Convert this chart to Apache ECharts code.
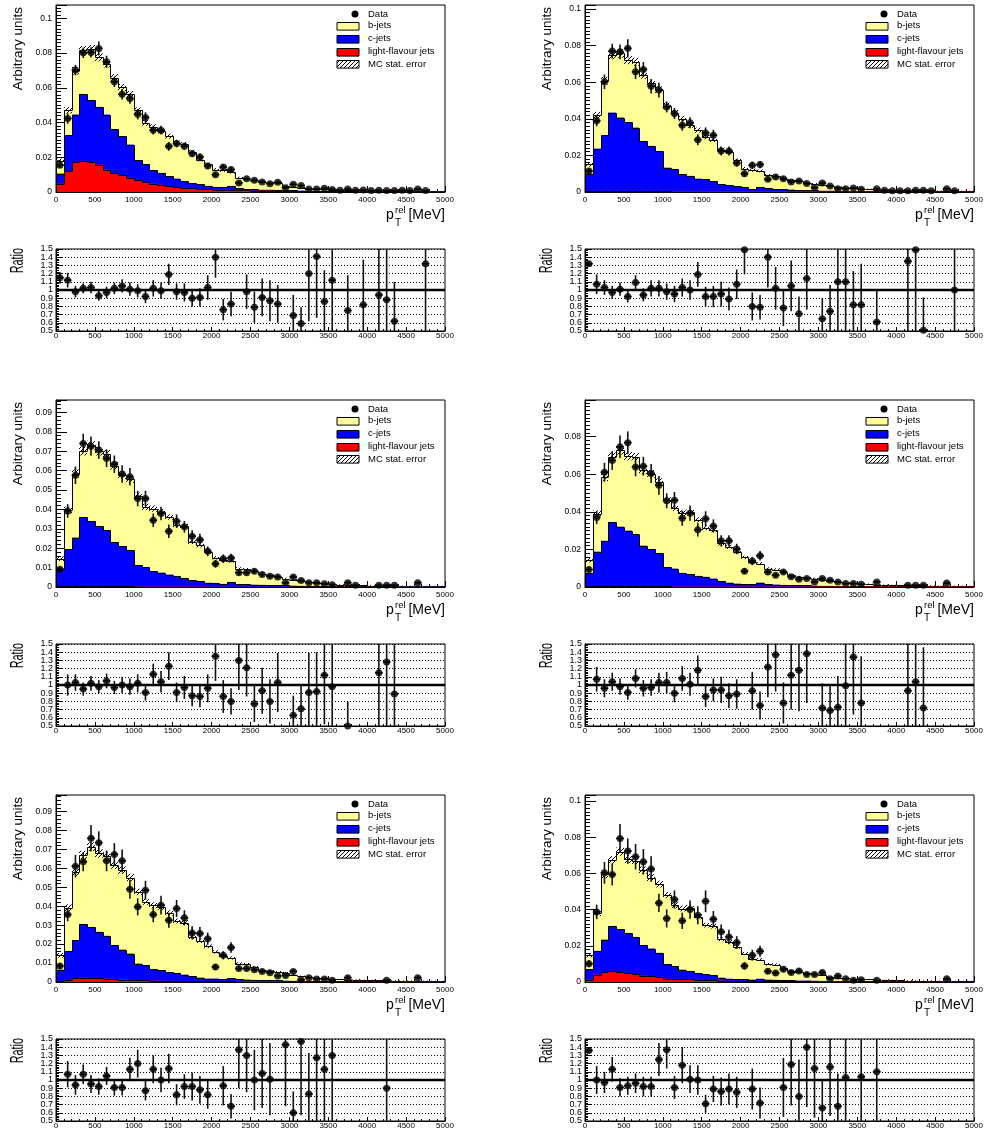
<!DOCTYPE html>
<html>
<head>
<meta charset="utf-8">
<script src="https://cdn.jsdelivr.net/npm/echarts@6/dist/echarts.min.js"></script>
<style>
  html, body { margin: 0; padding: 0; background: #fff; }
  #chart { width: 989px; height: 1135px; }
</style>
</head>
<body>
<div id="chart"></div>
<script>
// ---- binning: 50 bins of 100 MeV in p_T^rel ----
const binLow = [0,100,200,300,400,500,600,700,800,900,
  1000,1100,1200,1300,1400,1500,1600,1700,1800,1900,
  2000,2100,2200,2300,2400,2500,2600,2700,2800,2900,
  3000,3100,3200,3300,3400,3500,3600,3700,3800,3900,
  4000,4100,4200,4300,4400,4500,4600,4700,4800,4900];

// ---- panel 1 ----
const mcTotal1 = [0.0180,0.0470,0.0698,0.0817,0.0823,0.0775,0.0740,0.0658,0.0602,0.0563,
  0.0470,0.0398,0.0375,0.0352,0.0321,0.0283,0.0275,0.0231,0.0187,0.0160,
  0.0129,0.0125,0.0115,0.0081,0.0077,0.0067,0.0058,0.0052,0.0052,0.0037,
  0.0029,0.0025,0.0019,0.0017,0.0015,0.0013,0.0012,0.0010,0.0009,0.0008,
  0.0008,0.0007,0.0007,0.0006,0.0006,0.0005,0.0005,0.0005,0.0004,0.0004];
const mcCharmLight1 = [0.0106,0.0327,0.0446,0.0563,0.0529,0.0490,0.0446,0.0360,0.0321,0.0273,
  0.0183,0.0160,0.0125,0.0110,0.0090,0.0077,0.0062,0.0050,0.0044,0.0035,
  0.0029,0.0027,0.0035,0.0023,0.0017,0.0015,0.0013,0.0013,0.0012,0.0010,
  0.0010,0.0008,0.0007,0.0006,0.0006,0.0005,0.0005,0.0004,0.0004,0.0004,
  0.0003,0.0003,0.0003,0.0003,0.0003,0.0002,0.0002,0.0002,0.0002,0.0002];
const mcLight1 = [0.0048,0.0119,0.0173,0.0179,0.0173,0.0158,0.0129,0.0110,0.0096,0.0083,
  0.0067,0.0056,0.0048,0.0042,0.0035,0.0029,0.0025,0.0021,0.0017,0.0015,
  0.0013,0.0013,0.0012,0.0010,0.0010,0.0008,0.0008,0.0008,0.0006,0.0006,
  0.0005,0.0004,0.0004,0.0004,0.0003,0.0003,0.0003,0.0003,0.0002,0.0002,
  0.0002,0.0002,0.0002,0.0002,0.0001,0.0001,0.0001,0.0001,0.0001,0.0001];
const mcErr1 = [0.0012,0.0018,0.0022,0.0024,0.0024,0.0023,0.0022,0.0021,0.0020,0.0019,
  0.0017,0.0016,0.0015,0.0015,0.0014,0.0013,0.0013,0.0012,0.0011,0.0010,
  0.0009,0.0009,0.0009,0.0007,0.0007,0.0006,0.0006,0.0005,0.0005,0.0005,
  0.0004,0.0004,0.0003,0.0003,0.0003,0.0003,0.0003,0.0002,0.0002,0.0002,
  0.0002,0.0002,0.0002,0.0002,0.0002,0.0002,0.0002,0.0002,0.0002,0.0002];
const data1 = [0.0154,0.0423,0.0702,0.0802,0.0804,0.0827,0.0750,0.0635,0.0563,0.0538,
  0.0448,0.0429,0.0356,0.0356,0.0263,0.0279,0.0263,0.0221,0.0202,0.0150,
  0.0100,0.0144,0.0129,0.0052,0.0077,0.0067,0.0058,0.0048,0.0056,0.0025,
  0.0044,0.0037,0.0017,0.0017,0.0021,0.0015,0.0010,0.0017,0.0010,0.0012,
  0.0008,0.0010,0.0008,0.0008,0.0010,0.0008,0.0017,0.0008,null,null];
const dataErr1 = [0.0015,0.0030,0.0030,0.0030,0.0030,0.0040,0.0035,0.0030,0.0030,0.0030,
  0.0030,0.0030,0.0025,0.0025,0.0025,0.0022,0.0020,0.0020,0.0020,0.0017,
  0.0015,0.0015,0.0015,0.0010,0.0010,0.0010,0.0009,0.0009,0.0009,0.0007,
  0.0008,0.0007,0.0005,0.0005,0.0006,0.0005,0.0004,0.0005,0.0004,0.0004,
  0.0003,0.0004,0.0003,0.0003,0.0004,0.0003,0.0005,0.0003,null,null];
const ratio1 = [1.15,1.12,0.98,1.02,1.03,0.93,0.97,1.02,1.05,1.01,
  0.99,0.92,1.02,0.99,1.19,0.98,0.97,0.90,0.91,1.03,
  1.40,0.76,0.83,null,0.98,0.79,0.91,0.87,0.83,null,
  0.69,0.59,1.20,1.41,0.86,1.12,null,0.75,null,0.82,
  null,0.94,0.88,0.62,null,null,null,1.32,null,null];
const ratioErr1 = [0.07,0.09,0.07,0.06,0.07,0.06,0.07,0.07,0.08,0.08,
  0.08,0.08,0.10,0.10,0.13,0.10,0.11,0.10,0.11,0.15,
  0.25,0.13,0.15,null,0.21,0.19,0.23,0.25,0.23,null,
  0.25,0.20,0.58,0.75,0.38,0.65,null,0.43,null,0.55,
  null,0.80,0.90,0.48,null,null,null,1.00,null,null];

// ---- panel 2 ----
const mcTotal2 = [0.0151,0.0420,0.0608,0.0748,0.0757,0.0721,0.0712,0.0639,0.0593,0.0560,
  0.0471,0.0434,0.0401,0.0365,0.0338,0.0301,0.0286,0.0232,0.0219,0.0173,
  0.0128,0.0119,0.0115,0.0091,0.0088,0.0073,0.0064,0.0060,0.0051,0.0044,
  0.0038,0.0033,0.0027,0.0024,0.0020,0.0018,0.0015,0.0013,0.0011,0.0010,
  0.0009,0.0008,0.0008,0.0007,0.0007,0.0006,0.0006,0.0005,0.0005,0.0005];
const mcCharmLight2 = [0.0100,0.0237,0.0310,0.0434,0.0407,0.0380,0.0352,0.0277,0.0252,0.0224,
  0.0133,0.0126,0.0097,0.0088,0.0073,0.0069,0.0058,0.0042,0.0036,0.0031,
  0.0027,0.0016,0.0027,0.0020,0.0016,0.0015,0.0013,0.0011,0.0009,0.0009,
  0.0007,0.0007,0.0006,0.0005,0.0005,0.0004,0.0004,0.0004,0.0003,0.0003,
  0.0003,0.0003,0.0003,0.0003,0.0003,0.0003,0.0003,0.0003,0.0003,0.0003];
const mcLight2 = [0.0003,0.0004,0.0004,0.0004,0.0004,0.0004,0.0003,0.0003,0.0003,0.0003,
  0.0003,0.0002,0.0002,0.0002,0.0002,0.0002,0.0002,0.0002,0.0002,0.0002,
  0.0002,0.0002,0.0002,0.0002,0.0002,0.0002,0.0002,0.0002,0.0002,0.0002,
  0.0002,0.0002,0.0002,0.0002,0.0002,0.0002,0.0002,0.0002,0.0002,0.0002,
  0.0002,0.0002,0.0002,0.0002,0.0002,0.0002,0.0002,0.0002,0.0002,0.0002];
const mcErr2 = [0.0012,0.0018,0.0021,0.0023,0.0023,0.0022,0.0022,0.0020,0.0019,0.0018,
  0.0017,0.0016,0.0015,0.0014,0.0014,0.0013,0.0012,0.0011,0.0011,0.0010,
  0.0009,0.0008,0.0008,0.0007,0.0007,0.0006,0.0006,0.0005,0.0005,0.0005,
  0.0004,0.0004,0.0003,0.0003,0.0003,0.0003,0.0003,0.0002,0.0002,0.0002,
  0.0002,0.0002,0.0002,0.0002,0.0002,0.0002,0.0002,0.0002,0.0002,0.0002];
const data2 = [0.0115,0.0389,0.0602,0.0770,0.0766,0.0785,0.0657,0.0670,0.0578,0.0557,
  0.0465,0.0429,0.0365,0.0378,0.0286,0.0323,0.0310,0.0224,0.0224,0.0159,
  0.0100,0.0146,0.0150,0.0069,0.0082,0.0073,0.0055,0.0060,0.0046,0.0024,
  0.0049,0.0033,0.0018,0.0018,0.0022,0.0015,null,0.0018,0.0009,0.0007,
  0.0007,0.0007,0.0009,0.0009,0.0007,null,0.0018,0.0007,null,null];
const dataErr2 = [0.0015,0.0030,0.0040,0.0040,0.0040,0.0050,0.0040,0.0040,0.0040,0.0040,
  0.0030,0.0030,0.0030,0.0030,0.0030,0.0030,0.0030,0.0025,0.0025,0.0020,
  0.0018,0.0020,0.0020,0.0012,0.0012,0.0011,0.0010,0.0010,0.0009,0.0007,
  0.0009,0.0008,0.0006,0.0006,0.0006,0.0005,null,0.0006,0.0004,0.0003,
  0.0003,0.0003,0.0004,0.0004,0.0003,null,0.0006,0.0003,null,null];
const ratio2 = [1.32,1.07,1.03,0.97,1.01,0.92,1.09,0.94,1.02,1.02,
  0.98,0.95,1.03,1.00,1.19,0.92,0.92,0.95,0.89,1.07,
  1.49,0.80,0.79,1.40,1.02,0.78,1.05,0.71,1.14,null,
  0.65,0.74,1.10,1.10,0.82,0.82,null,0.61,null,null,
  null,1.35,1.49,0.51,null,null,null,1.00,null,null];
const ratioErr2 = [0.03,0.12,0.09,0.08,0.08,0.07,0.09,0.08,0.10,0.10,
  0.10,0.10,0.11,0.12,0.15,0.12,0.13,0.15,0.14,0.18,
  0.30,0.17,0.15,0.37,0.26,0.22,0.31,0.21,0.38,null,
  0.25,0.32,0.60,0.60,0.41,0.50,null,0.38,null,null,
  null,0.90,1.00,0.40,null,null,null,1.00,null,null];

// ---- panel 3 ----
const mcTotal3 = [0.0146,0.0396,0.0585,0.0700,0.0731,0.0700,0.0688,0.0625,0.0576,0.0556,
  0.0470,0.0413,0.0404,0.0387,0.0361,0.0318,0.0313,0.0232,0.0215,0.0181,
  0.0151,0.0138,0.0134,0.0095,0.0091,0.0083,0.0069,0.0060,0.0050,0.0043,
  0.0038,0.0031,0.0026,0.0022,0.0017,0.0015,0.0012,0.0010,0.0009,0.0008,
  0.0007,0.0007,0.0006,0.0006,0.0005,0.0005,0.0005,0.0004,0.0004,0.0004];
const mcCharmLight3 = [0.0095,0.0194,0.0255,0.0361,0.0339,0.0313,0.0293,0.0232,0.0210,0.0189,
  0.0112,0.0103,0.0081,0.0074,0.0064,0.0057,0.0046,0.0036,0.0031,0.0022,
  0.0021,0.0016,0.0026,0.0014,0.0014,0.0012,0.0011,0.0010,0.0009,0.0009,
  0.0007,0.0006,0.0005,0.0005,0.0004,0.0004,0.0004,0.0003,0.0003,0.0003,
  0.0003,0.0003,0.0002,0.0002,0.0002,0.0002,0.0002,0.0002,0.0002,0.0002];
const mcLight3 = [0.0003,0.0003,0.0004,0.0004,0.0004,0.0003,0.0003,0.0003,0.0003,0.0003,
  0.0002,0.0002,0.0002,0.0002,0.0002,0.0002,0.0002,0.0002,0.0002,0.0002,
  0.0001,0.0001,0.0001,0.0001,0.0001,0.0001,0.0001,0.0001,0.0001,0.0001,
  0.0001,0.0001,0.0001,0.0001,0.0001,0.0001,0.0001,0.0001,0.0001,0.0001,
  0.0001,0.0001,0.0001,0.0001,0.0001,0.0001,0.0001,0.0001,0.0001,0.0001];
const mcErr3 = [0.0012,0.0018,0.0021,0.0022,0.0023,0.0022,0.0021,0.0020,0.0019,0.0019,
  0.0017,0.0016,0.0016,0.0015,0.0014,0.0013,0.0013,0.0011,0.0011,0.0010,
  0.0009,0.0009,0.0008,0.0007,0.0007,0.0006,0.0006,0.0005,0.0005,0.0005,
  0.0004,0.0004,0.0003,0.0003,0.0003,0.0003,0.0002,0.0002,0.0002,0.0002,
  0.0002,0.0002,0.0002,0.0002,0.0002,0.0002,0.0002,0.0002,0.0002,0.0002];
const data3 = [0.0091,0.0392,0.0576,0.0740,0.0726,0.0706,0.0663,0.0633,0.0582,0.0568,
  0.0456,0.0456,0.0344,0.0379,0.0287,0.0339,0.0310,0.0262,0.0244,0.0184,
  0.0120,0.0146,0.0150,0.0074,0.0074,0.0081,0.0064,0.0055,0.0052,0.0022,
  0.0052,0.0034,0.0022,0.0022,0.0017,0.0012,null,0.0022,0.0009,null,
  null,0.0009,0.0009,0.0009,null,null,0.0022,null,null,null];
const dataErr3 = [0.0015,0.0035,0.0045,0.0050,0.0050,0.0045,0.0045,0.0045,0.0045,0.0045,
  0.0040,0.0040,0.0035,0.0035,0.0035,0.0035,0.0030,0.0030,0.0030,0.0025,
  0.0020,0.0022,0.0022,0.0014,0.0014,0.0014,0.0012,0.0011,0.0011,0.0007,
  0.0011,0.0009,0.0007,0.0007,0.0006,0.0005,null,0.0007,0.0004,null,
  null,0.0004,0.0004,0.0004,null,null,0.0007,null,null,null];
const ratio3 = [null,1.00,1.03,0.95,1.02,0.98,1.05,0.97,1.00,0.98,
  1.02,0.91,1.13,1.04,1.23,0.91,0.97,0.87,0.86,0.96,
  1.35,0.86,0.80,1.30,1.21,0.77,0.93,0.80,1.03,null,
  0.63,0.71,0.91,0.92,1.12,0.98,null,0.50,null,null,
  null,1.15,1.28,0.89,null,null,null,null,null,null];
const ratioErr3 = [null,0.13,0.10,0.08,0.09,0.08,0.09,0.08,0.10,0.10,
  0.11,0.10,0.13,0.13,0.17,0.12,0.14,0.13,0.13,0.17,
  0.30,0.20,0.16,0.36,0.35,0.22,0.28,0.27,0.36,null,
  0.24,0.30,0.48,0.48,0.60,0.60,null,0.30,null,null,
  null,0.70,0.80,0.65,null,null,null,null,null,null];

// ---- panel 4 ----
const mcTotal4 = [0.0143,0.0389,0.0584,0.0693,0.0727,0.0696,0.0691,0.0620,0.0602,0.0559,
  0.0464,0.0420,0.0393,0.0398,0.0357,0.0316,0.0304,0.0232,0.0214,0.0188,
  0.0157,0.0134,0.0125,0.0098,0.0093,0.0080,0.0063,0.0054,0.0048,0.0045,
  0.0038,0.0032,0.0027,0.0023,0.0020,0.0018,0.0015,0.0013,0.0011,0.0010,
  0.0009,0.0008,0.0008,0.0007,0.0007,0.0006,0.0006,0.0005,0.0005,0.0005];
const mcCharmLight4 = [0.0075,0.0188,0.0246,0.0345,0.0321,0.0300,0.0280,0.0220,0.0200,0.0179,
  0.0104,0.0098,0.0075,0.0068,0.0059,0.0054,0.0045,0.0030,0.0023,0.0018,
  0.0016,0.0014,0.0023,0.0014,0.0013,0.0011,0.0009,0.0008,0.0008,0.0007,
  0.0006,0.0006,0.0005,0.0005,0.0004,0.0004,0.0004,0.0003,0.0003,0.0003,
  0.0003,0.0003,0.0003,0.0003,0.0003,0.0003,0.0003,0.0003,0.0003,0.0003];
const mcLight4 = [0.0003,0.0004,0.0004,0.0004,0.0004,0.0004,0.0003,0.0003,0.0003,0.0003,
  0.0003,0.0002,0.0002,0.0002,0.0002,0.0002,0.0002,0.0002,0.0002,0.0002,
  0.0002,0.0002,0.0002,0.0002,0.0002,0.0002,0.0002,0.0002,0.0002,0.0002,
  0.0002,0.0002,0.0002,0.0002,0.0002,0.0002,0.0002,0.0002,0.0002,0.0002,
  0.0002,0.0002,0.0002,0.0002,0.0002,0.0002,0.0002,0.0002,0.0002,0.0002];
const mcErr4 = [0.0012,0.0018,0.0021,0.0023,0.0023,0.0022,0.0022,0.0020,0.0020,0.0019,
  0.0017,0.0016,0.0015,0.0015,0.0014,0.0013,0.0013,0.0011,0.0011,0.0010,
  0.0009,0.0009,0.0008,0.0007,0.0007,0.0006,0.0006,0.0005,0.0005,0.0005,
  0.0004,0.0004,0.0003,0.0003,0.0003,0.0003,0.0003,0.0002,0.0002,0.0002,
  0.0002,0.0002,0.0002,0.0002,0.0002,0.0002,0.0002,0.0002,0.0002,0.0002];
const data4 = [0.0093,0.0370,0.0611,0.0673,0.0746,0.0768,0.0639,0.0643,0.0604,0.0541,
  0.0459,0.0461,0.0366,0.0393,0.0304,0.0363,0.0325,0.0246,0.0246,0.0202,
  0.0084,0.0138,0.0166,0.0080,0.0063,0.0080,0.0054,0.0041,0.0045,0.0027,
  0.0045,0.0036,0.0027,0.0018,0.0018,0.0014,null,0.0027,null,null,
  null,0.0009,0.0009,0.0009,null,null,0.0021,null,null,null];
const dataErr4 = [0.0015,0.0035,0.0050,0.0050,0.0060,0.0060,0.0050,0.0050,0.0050,0.0050,
  0.0040,0.0045,0.0040,0.0040,0.0035,0.0040,0.0035,0.0030,0.0030,0.0028,
  0.0015,0.0022,0.0025,0.0013,0.0012,0.0013,0.0010,0.0009,0.0009,0.0007,
  0.0009,0.0008,0.0007,0.0006,0.0006,0.0005,null,0.0007,null,null,
  null,0.0004,0.0004,0.0004,null,null,0.0006,null,null,null];
const ratio4 = [null,1.07,0.96,1.04,0.98,0.91,1.08,0.96,0.97,1.03,
  1.03,0.90,1.08,1.01,1.18,0.86,0.94,0.94,0.87,0.89,
  null,0.93,0.75,1.22,1.37,0.78,1.12,1.18,1.38,null,
  0.72,0.69,0.73,0.99,1.34,0.78,null,null,null,null,
  null,0.93,1.04,0.72,null,null,null,null,null,null];
const ratioErr4 = [null,0.15,0.11,0.11,0.10,0.09,0.11,0.10,0.10,0.12,
  0.13,0.11,0.15,0.14,0.18,0.13,0.14,0.16,0.15,0.18,
  null,0.23,0.17,0.37,0.45,0.25,0.42,0.50,0.60,null,
  0.30,0.32,0.38,0.60,0.70,0.57,null,null,null,null,
  null,0.80,0.90,0.74,null,null,null,null,null,null];

// ---- panel 5 ----
const mcTotal5 = [0.0141,0.0392,0.0582,0.0671,0.0715,0.0679,0.0665,0.0618,0.0591,0.0552,
  0.0476,0.0424,0.0406,0.0397,0.0365,0.0323,0.0314,0.0238,0.0217,0.0189,
  0.0159,0.0138,0.0127,0.0097,0.0094,0.0079,0.0062,0.0058,0.0053,0.0048,
  0.0039,0.0030,0.0026,0.0023,0.0020,0.0017,0.0015,0.0013,0.0011,0.0010,
  0.0009,0.0008,0.0007,0.0007,0.0006,0.0006,0.0005,0.0005,0.0005,0.0004];
const mcCharmLight5 = [0.0065,0.0164,0.0221,0.0304,0.0288,0.0265,0.0244,0.0194,0.0171,0.0150,
  0.0097,0.0088,0.0067,0.0062,0.0053,0.0048,0.0039,0.0030,0.0023,0.0018,
  0.0018,0.0016,0.0021,0.0014,0.0013,0.0011,0.0010,0.0009,0.0008,0.0007,
  0.0006,0.0006,0.0005,0.0005,0.0004,0.0004,0.0004,0.0003,0.0003,0.0003,
  0.0003,0.0003,0.0003,0.0003,0.0002,0.0002,0.0002,0.0002,0.0002,0.0002];
const mcLight5 = [0.0005,0.0012,0.0021,0.0023,0.0022,0.0019,0.0018,0.0014,0.0013,0.0012,
  0.0009,0.0009,0.0007,0.0007,0.0006,0.0005,0.0005,0.0004,0.0004,0.0003,
  0.0003,0.0003,0.0003,0.0002,0.0002,0.0002,0.0002,0.0002,0.0002,0.0001,
  0.0001,0.0001,0.0001,0.0001,0.0001,0.0001,0.0001,0.0001,0.0001,0.0001,
  0.0001,0.0001,0.0001,0.0001,0.0001,0.0001,0.0001,0.0001,0.0001,0.0001];
const mcErr5 = [0.0012,0.0018,0.0021,0.0022,0.0023,0.0022,0.0021,0.0020,0.0020,0.0019,
  0.0017,0.0016,0.0016,0.0015,0.0014,0.0013,0.0013,0.0011,0.0011,0.0010,
  0.0009,0.0009,0.0008,0.0007,0.0007,0.0006,0.0006,0.0005,0.0005,0.0005,
  0.0004,0.0004,0.0003,0.0003,0.0003,0.0003,0.0002,0.0002,0.0002,0.0002,
  0.0002,0.0002,0.0002,0.0002,0.0002,0.0002,0.0002,0.0002,0.0002,0.0002];
const data5 = [0.0085,0.0356,0.0612,0.0635,0.0759,0.0736,0.0640,0.0674,0.0640,0.0490,
  0.0397,0.0485,0.0356,0.0406,0.0326,0.0388,0.0339,0.0259,0.0256,0.0229,
  0.0079,0.0141,0.0182,0.0071,0.0071,0.0065,0.0056,0.0049,0.0032,0.0035,
  0.0056,0.0012,0.0023,0.0016,0.0016,0.0009,null,0.0023,null,null,
  null,null,0.0009,null,null,null,0.0023,null,null,null];
const dataErr5 = [0.0015,0.0035,0.0060,0.0050,0.0070,0.0060,0.0055,0.0060,0.0060,0.0050,
  0.0045,0.0050,0.0040,0.0050,0.0040,0.0045,0.0040,0.0035,0.0035,0.0032,
  0.0015,0.0022,0.0028,0.0013,0.0013,0.0012,0.0011,0.0010,0.0008,0.0008,
  0.0011,0.0005,0.0007,0.0006,0.0006,0.0004,null,0.0007,null,null,
  null,null,0.0004,null,null,null,0.0007,null,null,null];
const ratio5 = [null,1.07,0.94,1.07,0.95,0.92,1.05,0.91,0.91,1.13,
  1.20,0.87,1.13,1.00,1.14,0.82,0.92,0.92,0.88,0.82,
  null,0.93,0.68,1.37,1.30,1.00,1.08,1.01,null,1.43,
  0.60,1.47,0.83,1.27,1.13,1.30,null,null,null,null,
  null,null,0.90,null,null,null,null,null,null,null];
const ratioErr5 = [null,0.16,0.12,0.12,0.11,0.10,0.11,0.10,0.10,0.14,
  0.17,0.12,0.17,0.15,0.18,0.13,0.15,0.17,0.17,0.17,
  null,0.24,0.15,0.47,0.45,0.37,0.42,0.44,null,0.75,
  0.26,0.90,0.50,0.80,0.75,0.90,null,null,null,null,
  null,null,0.90,null,null,null,null,null,null,null];

// ---- panel 6 ----
const mcTotal6 = [0.0148,0.0382,0.0594,0.0673,0.0720,0.0679,0.0670,0.0618,0.0577,0.0541,
  0.0480,0.0424,0.0406,0.0411,0.0360,0.0314,0.0308,0.0236,0.0221,0.0194,
  0.0157,0.0129,0.0124,0.0098,0.0096,0.0079,0.0061,0.0055,0.0050,0.0046,
  0.0041,0.0028,0.0024,0.0020,0.0018,0.0016,0.0014,0.0012,0.0011,0.0010,
  0.0009,0.0008,0.0008,0.0007,0.0007,0.0006,0.0006,0.0005,0.0005,0.0005];
const mcCharmLight6 = [0.0070,0.0172,0.0234,0.0308,0.0292,0.0271,0.0249,0.0203,0.0185,0.0161,
  0.0098,0.0087,0.0068,0.0059,0.0050,0.0042,0.0037,0.0024,0.0018,0.0015,
  0.0014,0.0013,0.0018,0.0013,0.0012,0.0010,0.0009,0.0008,0.0008,0.0007,
  0.0006,0.0006,0.0005,0.0005,0.0004,0.0004,0.0004,0.0003,0.0003,0.0003,
  0.0003,0.0003,0.0003,0.0003,0.0003,0.0002,0.0002,0.0002,0.0002,0.0002];
const mcLight6 = [0.0013,0.0041,0.0055,0.0059,0.0055,0.0050,0.0042,0.0035,0.0031,0.0028,
  0.0018,0.0017,0.0015,0.0015,0.0013,0.0011,0.0011,0.0008,0.0007,0.0006,
  0.0006,0.0005,0.0005,0.0004,0.0004,0.0003,0.0003,0.0003,0.0003,0.0002,
  0.0002,0.0002,0.0002,0.0002,0.0002,0.0001,0.0001,0.0001,0.0001,0.0001,
  0.0001,0.0001,0.0001,0.0001,0.0001,0.0001,0.0001,0.0001,0.0001,0.0001];
const mcErr6 = [0.0012,0.0018,0.0021,0.0022,0.0023,0.0022,0.0021,0.0020,0.0019,0.0019,
  0.0017,0.0016,0.0016,0.0015,0.0014,0.0013,0.0013,0.0011,0.0011,0.0010,
  0.0009,0.0008,0.0008,0.0007,0.0007,0.0006,0.0006,0.0005,0.0005,0.0005,
  0.0004,0.0004,0.0003,0.0003,0.0003,0.0003,0.0003,0.0002,0.0002,0.0002,
  0.0002,0.0002,0.0002,0.0002,0.0002,0.0002,0.0002,0.0002,0.0002,0.0002];
const data6 = [0.0101,0.0387,0.0603,0.0594,0.0793,0.0723,0.0692,0.0664,0.0624,0.0437,
  0.0351,0.0456,0.0338,0.0400,0.0369,0.0446,0.0347,0.0277,0.0249,0.0218,
  0.0089,0.0148,0.0170,0.0059,0.0050,0.0070,0.0052,0.0061,0.0042,0.0042,
  0.0052,0.0018,0.0033,0.0018,0.0009,0.0013,null,0.0009,null,null,
  null,null,null,null,null,null,0.0018,null,null,null];
const dataErr6 = [0.0020,0.0040,0.0060,0.0060,0.0080,0.0070,0.0070,0.0070,0.0070,0.0050,
  0.0050,0.0050,0.0045,0.0050,0.0050,0.0060,0.0045,0.0040,0.0040,0.0035,
  0.0020,0.0030,0.0030,0.0015,0.0014,0.0015,0.0013,0.0014,0.0011,0.0011,
  0.0013,0.0007,0.0009,0.0007,0.0005,0.0006,null,0.0005,null,null,
  null,null,null,null,null,null,0.0007,null,null,null];
const ratio6 = [1.36,1.00,0.97,1.13,0.91,0.93,0.96,0.92,0.92,1.25,
  1.37,0.91,1.18,1.01,1.00,0.71,0.89,0.86,0.89,0.85,
  null,0.89,0.72,null,null,0.91,1.19,0.80,1.40,1.14,
  0.66,1.16,0.68,1.03,null,1.04,null,1.10,null,null,
  null,null,null,null,null,null,null,null,null,null];
const ratioErr6 = [0.03,0.17,0.13,0.15,0.11,0.11,0.12,0.12,0.12,0.20,
  0.23,0.14,0.22,0.17,0.18,0.11,0.16,0.17,0.19,0.19,
  null,0.25,0.19,null,null,0.36,0.50,0.45,0.73,0.60,
  0.34,0.60,0.40,0.80,null,0.90,null,1.00,null,null,
  null,null,null,null,null,null,null,null,null,null];

// y-range of each distribution pad and its labelled step
const yAxisMax = [0.1077, 0.1022, 0.0964, 0.0995, 0.0988, 0.1033];
const yLabelStep = [0.02, 0.02, 0.01, 0.02, 0.01, 0.02];
const yMinorStep = 0.002;
const ratioTicks = [0.5, 1.5, 0.1];
const xTicks = [0, 5000, 500];

const legendLabels = ['Data', 'b-jets', 'c-jets', 'light-flavour jets', 'MC stat. error'];

const panels = [
  { total: mcTotal1, charmLight: mcCharmLight1, light: mcLight1, mcErr: mcErr1, data: data1, dataErr: dataErr1, ratio: ratio1, ratioErr: ratioErr1 },
  { total: mcTotal2, charmLight: mcCharmLight2, light: mcLight2, mcErr: mcErr2, data: data2, dataErr: dataErr2, ratio: ratio2, ratioErr: ratioErr2 },
  { total: mcTotal3, charmLight: mcCharmLight3, light: mcLight3, mcErr: mcErr3, data: data3, dataErr: dataErr3, ratio: ratio3, ratioErr: ratioErr3 },
  { total: mcTotal4, charmLight: mcCharmLight4, light: mcLight4, mcErr: mcErr4, data: data4, dataErr: dataErr4, ratio: ratio4, ratioErr: ratioErr4 },
  { total: mcTotal5, charmLight: mcCharmLight5, light: mcLight5, mcErr: mcErr5, data: data5, dataErr: dataErr5, ratio: ratio5, ratioErr: ratioErr5 },
  { total: mcTotal6, charmLight: mcCharmLight6, light: mcLight6, mcErr: mcErr6, data: data6, dataErr: dataErr6, ratio: ratio6, ratioErr: ratioErr6 }
];

// ---- layout ----
const COL_LEFT = [56, 585];
const PLOT_W = 389;
const MAIN_TOP = [5, 400, 795];
const MAIN_H = 187;
const RATIO_TOP = [249, 644, 1039];
const RATIO_H = 82;

const FONT = '"Liberation Sans", Arial, Helvetica, sans-serif';
const YELLOW = '#ffff99';
const BLUE = '#0000ff';
const RED = '#ff0000';
const BIN_W = binLow[1] - binLow[0];

// "////" hatch used for the MC statistical uncertainty
const hatchCanvas = document.createElement('canvas');
const HS = 4;
hatchCanvas.width = HS; hatchCanvas.height = HS;
(function () {
  const g = hatchCanvas.getContext('2d');
  g.strokeStyle = '#000';
  g.lineWidth = 1;
  g.beginPath();
  g.moveTo(0, HS); g.lineTo(HS, 0);
  g.moveTo(-1, 1); g.lineTo(1, -1);
  g.moveTo(HS - 1, HS + 1); g.lineTo(HS + 1, HS - 1);
  g.stroke();
})();
const hatchFill = { image: hatchCanvas, repeat: 'repeat' };

// one filled histogram layer with its black step outline
function stackRender(fill) {
  return function (params, api) {
    const lo = api.value(0), hi = api.value(1), top = api.value(2), prev = api.value(3);
    const base = api.coord([lo, 0]);
    const tr = api.coord([hi, top]);
    const pv = api.coord([lo, prev]);
    const x0 = Math.round(base[0]), x1 = Math.round(tr[0]);
    const yTop = Math.round(tr[1]) + 0.5, yPrev = Math.round(pv[1]) + 0.5;
    return {
      type: 'group',
      children: [
        { type: 'rect', shape: { x: x0, y: tr[1], width: x1 - x0, height: base[1] - tr[1] }, style: { fill: fill } },
        { type: 'polyline', shape: { points: [[x0 + 0.5, yPrev], [x0 + 0.5, yTop], [x1 + 0.5, yTop]] },
          style: { stroke: '#000', lineWidth: 1, fill: 'none' } }
      ]
    };
  };
}

function bandRender(params, api) {
  const a = api.coord([api.value(0), api.value(2)]);
  const b = api.coord([api.value(1), api.value(3)]);
  const x0 = Math.round(a[0]), x1 = Math.round(b[0]);
  return { type: 'rect', shape: { x: x0, y: b[1], width: x1 - x0, height: a[1] - b[1] }, style: { fill: hatchFill } };
}

function errorBarRender(params, api) {
  const x = api.value(0), y = api.value(1), e = api.value(2), lo = api.value(3), hi = api.value(4);
  const c = api.coord([x, y]);
  const up = api.coord([x, y + e]);
  const dn = api.coord([x, y - e]);
  const l = api.coord([lo, y]);
  const r = api.coord([hi, y]);
  return {
    type: 'group',
    children: [
      { type: 'line', shape: { x1: c[0], y1: up[1], x2: c[0], y2: dn[1] }, style: { stroke: '#111', lineWidth: 1.6 } },
      { type: 'line', shape: { x1: l[0], y1: c[1], x2: r[0], y2: c[1] }, style: { stroke: '#111', lineWidth: 1.6 } }
    ]
  };
}

function pointsWithErrors(values, errors) {
  const out = [];
  values.forEach((v, i) => {
    if (v === null || v === undefined) return;
    out.push([binLow[i] + BIN_W / 2, v, errors[i] || 0, binLow[i], binLow[i] + BIN_W]);
  });
  return out;
}

function fmtNum(v) { return String(parseFloat(v.toFixed(4))); }

// ratio labels are split over two label-only axes (alternating tenths) so that
// every tenth from 0.5 to 1.5 is printed despite the tight spacing
function ratioLabel(parity) {
  return v => {
    const k = Math.round((v - ratioTicks[0]) / ratioTicks[2]);
    return (k % 2 === parity) ? fmtNum(v) : '';
  };
}

const frame = { show: true, borderColor: '#000', borderWidth: 1, backgroundColor: '#fff', containLabel: false, outerBoundsMode: 'none' };
const grids = [], xAxes = [], yAxes = [], series = [], graphics = [];

panels.forEach((P, p) => {
  const row = Math.floor(p / 2), col = p % 2;
  const left = COL_LEFT[col];
  const mTop = MAIN_TOP[row], rTop = RATIO_TOP[row];
  const right = left + PLOT_W, mBottom = mTop + MAIN_H;

  const gMain = grids.length;
  grids.push(Object.assign({ left: left, top: mTop, width: PLOT_W, height: MAIN_H }, frame));
  grids.push(Object.assign({ left: left, top: rTop, width: PLOT_W, height: RATIO_H }, frame));

  const xMain = xAxes.length;
  const xCommon = {
    type: 'value', min: xTicks[0], max: xTicks[1], interval: xTicks[2],
    axisLine: { show: true, lineStyle: { color: '#000', width: 1 } },
    splitLine: { show: false },
    axisLabel: { color: '#000', fontFamily: FONT, fontSize: 8, showMinLabel: true, showMaxLabel: true, formatter: v => String(v) }
  };
  xAxes.push(Object.assign({}, xCommon, {
    gridIndex: gMain,
    axisTick: { show: true, inside: true, length: 6, lineStyle: { color: '#000' } },
    minorTick: { show: true, splitNumber: 5, length: 3, lineStyle: { color: '#000' } },
    axisLabel: Object.assign({}, xCommon.axisLabel, { margin: 3.5 })
  }));
  xAxes.push(Object.assign({}, xCommon, {
    gridIndex: gMain + 1,
    axisTick: { show: true, inside: true, length: 4, lineStyle: { color: '#000' } },
    minorTick: { show: true, splitNumber: 5, length: 2, lineStyle: { color: '#000' } },
    axisLabel: Object.assign({}, xCommon.axisLabel, { margin: 1 })
  }));

  const yMain = yAxes.length;
  const step = yLabelStep[p];
  yAxes.push({
    type: 'value', gridIndex: gMain, position: 'left', min: 0, max: yAxisMax[p], interval: step,
    axisLine: { show: true, lineStyle: { color: '#000' } },
    axisTick: { show: true, inside: true, length: 11, lineStyle: { color: '#000' } },
    minorTick: { show: false },
    splitLine: { show: false },
    axisLabel: {
      color: '#000', fontFamily: FONT, fontSize: 8.5, margin: 4,
      formatter: v => (Math.abs(v / step - Math.round(v / step)) < 1e-6 ? fmtNum(v) : '')
    }
  });
  yAxes.push({
    type: 'value', gridIndex: gMain, position: 'left', min: 0, max: yAxisMax[p], interval: yMinorStep,
    axisLine: { show: false },
    axisTick: { show: true, inside: true, length: 5, lineStyle: { color: '#000' } },
    splitLine: { show: false },
    axisLabel: { show: false }
  });
  const yRatio = yAxes.length;
  yAxes.push({
    type: 'value', gridIndex: gMain + 1, position: 'left', min: ratioTicks[0], max: ratioTicks[1], interval: ratioTicks[2],
    axisLine: { show: true, lineStyle: { color: '#000' } },
    axisTick: { show: true, inside: true, length: 6, lineStyle: { color: '#000' } },
    minorTick: { show: true, splitNumber: 5, length: 3, lineStyle: { color: '#000' } },
    splitLine: { show: true, lineStyle: { type: [1, 2], color: '#000', width: 1 } },
    axisLabel: {
      color: '#000', fontFamily: FONT, fontSize: 9, margin: 3,
      showMinLabel: true, showMaxLabel: true, formatter: ratioLabel(0)
    }
  });
  yAxes.push({
    type: 'value', gridIndex: gMain + 1, position: 'left', min: ratioTicks[0], max: ratioTicks[1], interval: ratioTicks[2],
    axisLine: { show: false }, axisTick: { show: false }, splitLine: { show: false },
    axisLabel: {
      color: '#000', fontFamily: FONT, fontSize: 9, margin: 3,
      showMinLabel: false, showMaxLabel: false, formatter: ratioLabel(1)
    }
  });

  // stacked MC: total, then c+light, then light on top of each other
  const layers = [
    { name: 'b-jets', values: P.total, color: YELLOW },
    { name: 'c-jets', values: P.charmLight, color: BLUE },
    { name: 'light-flavour jets', values: P.light, color: RED }
  ];
  layers.forEach(layer => {
    series.push({
      type: 'custom', name: layer.name, xAxisIndex: xMain, yAxisIndex: yMain, clip: true, silent: true,
      renderItem: stackRender(layer.color),
      data: binLow.map((lo, i) => [lo, lo + BIN_W, layer.values[i], i ? layer.values[i - 1] : 0])
    });
  });

  series.push({
    type: 'custom', name: 'MC stat. error', xAxisIndex: xMain, yAxisIndex: yMain, clip: true, silent: true,
    renderItem: bandRender,
    data: binLow.map((lo, i) => [lo, lo + BIN_W, Math.max(0, P.total[i] - P.mcErr[i]), P.total[i] + P.mcErr[i]])
  });

  const mainPts = pointsWithErrors(P.data, P.dataErr);
  series.push({
    type: 'custom', name: 'Data', xAxisIndex: xMain, yAxisIndex: yMain, clip: true, silent: true,
    renderItem: errorBarRender, data: mainPts
  });
  series.push({
    type: 'scatter', name: 'Data', xAxisIndex: xMain, yAxisIndex: yMain, clip: false, silent: true,
    symbol: 'circle', symbolSize: 7, itemStyle: { color: '#000' },
    data: mainPts.map(d => [d[0], d[1]])
  });

  // ratio pad
  series.push({
    type: 'line', name: 'unity', xAxisIndex: xMain + 1, yAxisIndex: yRatio, silent: true,
    symbol: 'none', lineStyle: { color: '#000', width: 2.5 },
    data: [[xTicks[0], 1], [xTicks[1], 1]]
  });
  const ratioPts = pointsWithErrors(P.ratio, P.ratioErr);
  series.push({
    type: 'custom', name: 'Ratio', xAxisIndex: xMain + 1, yAxisIndex: yRatio, clip: true, silent: true,
    renderItem: errorBarRender, data: ratioPts
  });
  series.push({
    type: 'scatter', name: 'Ratio', xAxisIndex: xMain + 1, yAxisIndex: yRatio, clip: false, silent: true,
    symbol: 'circle', symbolSize: 7, itemStyle: { color: '#000' },
    data: ratioPts.map(d => [d[0], d[1]])
  });

  // legend block
  const bx = left + 281, tx = left + 312, cx = left + 299;
  const rowsY = [9, 20.5, 33.8, 46.3, 58.9].map(d => mTop + d);
  const boxFills = [null, YELLOW, BLUE, RED, hatchFill];
  graphics.push({ type: 'circle', shape: { cx: cx, cy: rowsY[0], r: 3.5 }, style: { fill: '#000' }, z: 100 });
  for (let k = 1; k < 5; k++) {
    graphics.push({
      type: 'rect', shape: { x: bx, y: Math.round(rowsY[k] - 3.8) + 0.5, width: 22, height: 7.6 },
      style: { fill: boxFills[k], stroke: '#000', lineWidth: 1 }, z: 100
    });
  }
  legendLabels.forEach((txt, k) => {
    graphics.push({
      type: 'text', x: tx, y: rowsY[k], z: 100,
      style: { text: txt, fontFamily: FONT, fontSize: 9.5, fill: '#000', align: 'left', verticalAlign: 'middle' }
    });
  });

  // axis titles
  graphics.push({
    type: 'text', x: left - 38, y: mTop + 2, rotation: Math.PI / 2, z: 100,
    style: { text: 'Arbitrary units', fontFamily: FONT, fontSize: 13.5, fill: '#000', align: 'right', verticalAlign: 'middle' }
  });
  graphics.push({
    type: 'text', x: left - 38, y: rTop - 1, rotation: Math.PI / 2, scaleX: 0.6, z: 100,
    style: { text: 'Ratio', fontFamily: FONT, fontSize: 18, fill: '#000', align: 'right', verticalAlign: 'middle' }
  });
  graphics.push({
    type: 'text', x: right, y: mBottom + 23.5, z: 100,
    style: { text: '[MeV]', fontFamily: FONT, fontSize: 14, fill: '#000', align: 'right', verticalAlign: 'middle' }
  });
  graphics.push({
    type: 'text', x: right - 59, y: mBottom + 23.5, z: 100,
    style: { text: 'p', fontFamily: FONT, fontSize: 14, fill: '#000', align: 'left', verticalAlign: 'middle' }
  });
  graphics.push({
    type: 'text', x: right - 50, y: mBottom + 18.5, z: 100,
    style: { text: 'rel', fontFamily: FONT, fontSize: 9.5, fill: '#000', align: 'left', verticalAlign: 'middle' }
  });
  graphics.push({
    type: 'text', x: right - 50, y: mBottom + 31, z: 100,
    style: { text: 'T', fontFamily: FONT, fontSize: 10, fill: '#000', align: 'left', verticalAlign: 'middle' }
  });
});

const chart = echarts.init(document.getElementById('chart'), null, { renderer: 'canvas', width: 989, height: 1135 });
chart.setOption({
  animation: false,
  backgroundColor: '#fff',
  textStyle: { fontFamily: FONT },
  grid: grids,
  xAxis: xAxes,
  yAxis: yAxes,
  series: series,
  graphic: { elements: graphics }
});
</script>
</body>
</html>
